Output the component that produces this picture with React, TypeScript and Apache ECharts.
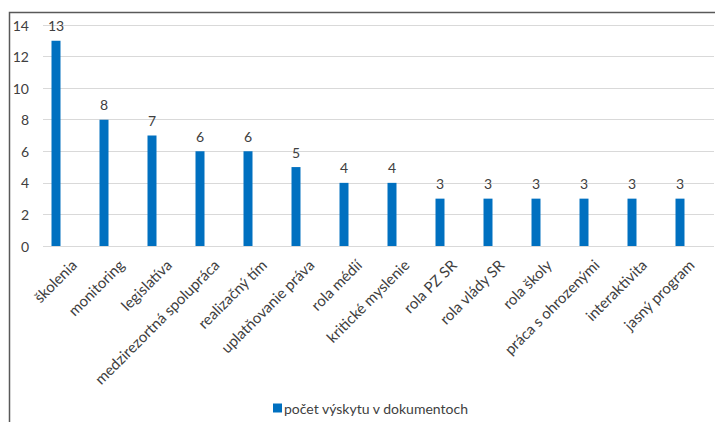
import React, { useEffect, useRef } from "react";
import * as echarts from "echarts";

const categories = [
  "školenia",
  "monitoring",
  "legislatíva",
  "medzirezortná spolupráca",
  "realizačný tím",
  "uplatňovanie práva",
  "rola médií",
  "kritické myslenie",
  "rola PZ SR",
  "rola vlády SR",
  "rola školy",
  "práca s ohrozenými",
  "interaktivita",
  "jasný program",
];
const values = [13, 8, 7, 6, 6, 5, 4, 4, 3, 3, 3, 3, 3, 3];
const seriesName = "počet výskytu v dokumentoch";
const yMin = 0;
const yMax = 14;
const yInterval = 2;

const FONT = "Lato";
const TEXT = "#404040";

export default function App() {
  const ref = useRef<HTMLDivElement>(null);
  useEffect(() => {
    if (!ref.current) return;
    const chart = echarts.init(ref.current, undefined, { renderer: "svg" });
    chart.setOption({
      animation: false,
      backgroundColor: "#ffffff",
      textStyle: { fontFamily: FONT },
      grid: [
        { left: 43, width: 671, top: 25, height: 221 },
        { left: 32, width: 672, top: 25, height: 221 },
        { left: 50, width: 672, top: 25, height: 221 },
      ],
      legend: {
        left: 273,
        top: 401,
        padding: 0,
        itemWidth: 9,
        itemHeight: 9,
        itemGap: 10,
        icon: "rect",
        textStyle: { fontFamily: FONT, fontSize: 14, color: TEXT, padding: [0, 0, 0, -3] },
        data: [seriesName],
      },
      xAxis: [
        { type: "category", gridIndex: 0, data: categories, show: false },
        { type: "category", gridIndex: 1, data: categories, show: false },
        {
          type: "category",
          gridIndex: 2,
          data: categories,
          axisLine: { show: false },
          axisTick: { show: false },
          axisLabel: {
            rotate: 45,
            interval: 0,
            margin: 16,
            fontFamily: FONT,
            fontSize: 15,
            color: TEXT,
          },
        },
      ],
      yAxis: [
        {
          type: "value",
          gridIndex: 0,
          min: yMin,
          max: yMax,
          interval: yInterval,
          axisLine: { show: false },
          axisTick: { show: false },
          axisLabel: { margin: 14, fontFamily: FONT, fontSize: 14, color: TEXT },
          splitLine: { lineStyle: { color: "#d9d9d9", width: 1 } },
        },
        { type: "value", gridIndex: 1, min: yMin, max: yMax, interval: yInterval, show: false, splitLine: { show: false } },
        { type: "value", gridIndex: 2, min: yMin, max: yMax, interval: yInterval, show: false, splitLine: { show: false } },
      ],
      series: [
        {
          name: seriesName,
          type: "bar",
          xAxisIndex: 1,
          yAxisIndex: 1,
          data: values,
          barWidth: 9,
          itemStyle: { color: "#0070C0" },
          label: { show: true, position: "top", distance: 8, fontFamily: FONT, fontSize: 14, color: TEXT },
        },
      ],
      graphic: [
        {
          type: "rect",
          shape: { x: 9.5, y: 12.5, width: 800, height: 500 },
          style: { fill: "none", stroke: "#595959", lineWidth: 1.5 },
          silent: true,
        },
      ],
    });
    return () => chart.dispose();
  }, []);
  return <div ref={ref} style={{ position: "fixed", left: 0, top: 0, width: 715, height: 422 }} />;
}
